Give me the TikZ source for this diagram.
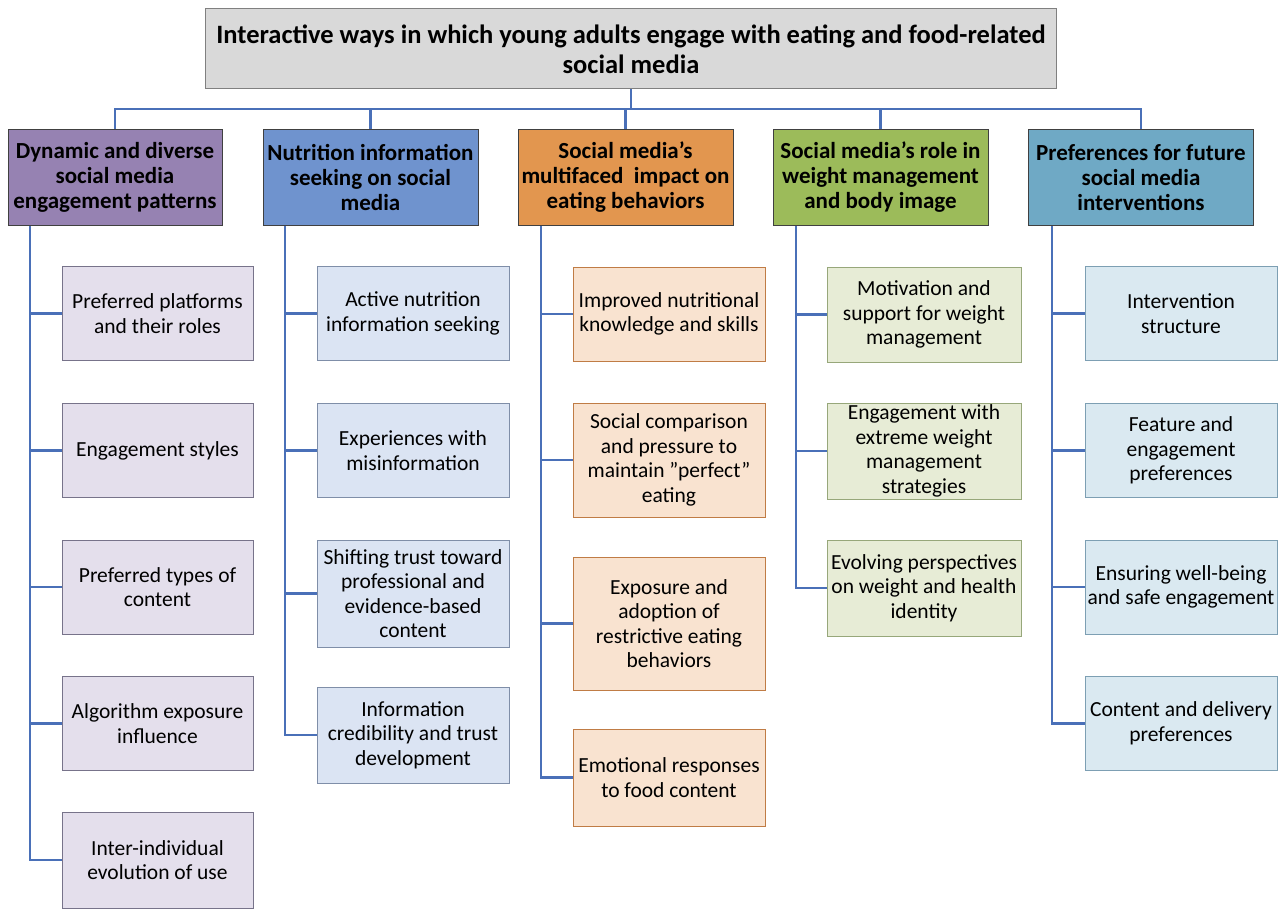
\documentclass[tikz,border=0pt]{standalone}
\usepackage{fontspec}
\setmainfont{Carlito}
\definecolor{conn}{HTML}{4A70B8}
\definecolor{topfill}{HTML}{D9D9D9}
\definecolor{topdraw}{HTML}{808080}
\definecolor{pA}{HTML}{9682B2}
\definecolor{pB}{HTML}{6F93CE}
\definecolor{pC}{HTML}{E2964F}
\definecolor{pD}{HTML}{9CBB5A}
\definecolor{pE}{HTML}{6FA9C5}
\definecolor{sA}{HTML}{E4DFEC}
\definecolor{sB}{HTML}{DBE4F3}
\definecolor{sC}{HTML}{F9E3D0}
\definecolor{sD}{HTML}{E7ECD6}
\definecolor{sE}{HTML}{DAE9F1}
\definecolor{bA}{HTML}{77738A}
\definecolor{bB}{HTML}{7F8EA8}
\definecolor{bC}{HTML}{C07C45}
\definecolor{bD}{HTML}{97A77A}
\definecolor{bE}{HTML}{7D9FB3}
\tikzset{
  conline/.style={draw=conn, line width=2.2pt},
  topbox/.style={draw=topdraw, fill=topfill, line width=1pt, align=center, inner sep=0pt,
     font=\fontsize{26.5}{30}\selectfont\bfseries},
  headbox/.style={draw=black!75, line width=0.9pt, align=center, inner sep=0pt,
     font=\fontsize{23}{25}\selectfont\bfseries, minimum height=96pt},
  subbox/.style={line width=0.9pt, align=center, inner sep=0pt,
     font=\fontsize{21.5}{24.5}\selectfont},
  sa/.style={subbox, fill=sA, draw=bA, minimum width=191pt},
  sb/.style={subbox, fill=sB, draw=bB, minimum width=192pt},
  sc/.style={subbox, fill=sC, draw=bC, minimum width=192pt},
  sd/.style={subbox, fill=sD, draw=bD, minimum width=194pt},
  se/.style={subbox, fill=sE, draw=bE, minimum width=192pt},
}
\begin{document}
\begin{tikzpicture}[x=1pt,y=-1pt]
\useasboundingbox (0,0) rectangle (1286,909);
% top
\node[topbox, minimum width=851pt, minimum height=80pt] (top) at (631,49)
  {Interactive ways in which young adults engage with eating and food-related\\social media};
% heads
\node[headbox, fill=pA, minimum width=214pt] (h1) at (115,177.5) {Dynamic and diverse\\social media\\engagement patterns};
\node[headbox, fill=pB, minimum width=215pt] (h2) at (370.5,177.5) {Nutrition information\\seeking on social\\media};
\node[headbox, fill=pC, minimum width=215pt] (h3) at (625.5,177.5) {Social media's\\multifaced\ \ impact on\\eating behaviors};
\node[headbox, fill=pD, minimum width=215pt] (h4) at (880.5,177.5) {Social media's role in\\weight management\\and body image};
\node[headbox, fill=pE, minimum width=225pt] (h5) at (1141,177.5) {Preferences for future\\social media\\interventions};
% bus
\coordinate (bus) at (631,109);
\foreach \h in {h1,h2,h3,h4,h5}{ \draw[conline] (top.south) -- (bus) -| (\h.north); }
% column 1
\node[sa, minimum height=94pt] (a1) at (157.5,313.5) {Preferred platforms\\and their roles};
\node[sa, minimum height=94pt] (a2) at (157.5,450.5) {Engagement styles};
\node[sa, minimum height=94pt] (a3) at (157.5,587) {Preferred types of\\content};
\node[sa, minimum height=94pt] (a4) at (157.5,723.5) {Algorithm exposure\\influence};
\node[sa, minimum height=96pt] (a5) at (157.5,860) {Inter-individual\\evolution of use};
% column 2
\node[sb, minimum height=94pt] (b1) at (413,313.5) {Active nutrition\\information seeking};
\node[sb, minimum height=94pt] (b2) at (413,450.5) {Experiences with\\misinformation};
\node[sb, minimum height=107pt] (b3) at (413,593.5) {Shifting trust toward\\professional and\\evidence-based\\content};
\node[sb, minimum height=96pt] (b4) at (413,735) {Information\\credibility and trust\\development};
% column 3
\node[sc, minimum height=94pt] (c1) at (669,314) {Improved nutritional\\knowledge and skills};
\node[sc, minimum height=114pt] (c2) at (669,460) {Social comparison\\and pressure to\\maintain ”perfect\symbol{34}\\eating};
\node[sc, minimum height=133pt] (c3) at (669,623.5) {Exposure and\\adoption of\\restrictive eating\\behaviors};
\node[sc, minimum height=97pt] (c4) at (669,777.5) {Emotional responses\\to food content};
% column 4
\node[sd, minimum height=95pt] (d1) at (924,314.5) {Motivation and\\support for weight\\management};
\node[sd, minimum height=96pt] (d2) at (924,451) {Engagement with\\extreme weight\\management\\strategies};
\node[sd, minimum height=96pt] (d3) at (924,588) {Evolving perspectives\\on weight and health\\identity};
% column 5
\node[se, minimum height=94pt] (e1) at (1181,313.5) {Intervention\\structure};
\node[se, minimum height=94pt] (e2) at (1181,450.5) {Feature and\\engagement\\preferences};
\node[se, minimum height=94pt] (e3) at (1181,587) {Ensuring well-being\\and safe engagement};
\node[se, minimum height=94pt] (e4) at (1181,723.5) {Content and delivery\\preferences};
% trunks
\coordinate (v1) at (30,0);
\coordinate (v2) at (285,0);
\coordinate (v3) at (541,0);
\coordinate (v4) at (796,0);
\coordinate (v5) at (1052,0);
\foreach \s in {a1,a2,a3,a4,a5}{ \draw[conline] (h1.south -| v1) |- (\s.west); }
\foreach \s in {b1,b2,b3,b4}{ \draw[conline] (h2.south -| v2) |- (\s.west); }
\foreach \s in {c1,c2,c3,c4}{ \draw[conline] (h3.south -| v3) |- (\s.west); }
\foreach \s in {d1,d2,d3}{ \draw[conline] (h4.south -| v4) |- (\s.west); }
\foreach \s in {e1,e2,e3,e4}{ \draw[conline] (h5.south -| v5) |- (\s.west); }
\end{tikzpicture}
\end{document}
